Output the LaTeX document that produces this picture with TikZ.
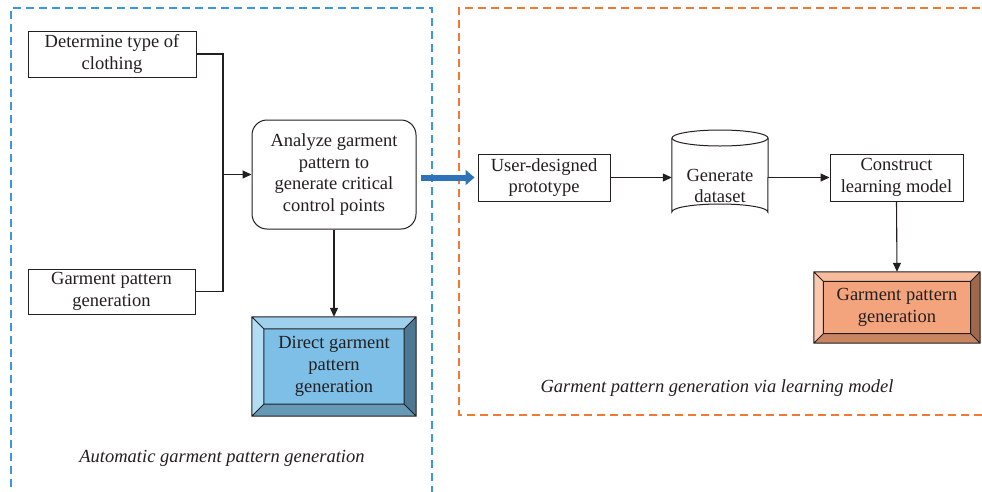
\documentclass[tikz,border=0pt]{standalone}
\usepackage{fontspec}
\setmainfont{Liberation Serif}
\usetikzlibrary{arrows.meta,calc}
\pgfdeclarelayer{background}
\pgfsetlayers{background,main}
\definecolor{ink}{HTML}{231F20}
\definecolor{dashblue}{HTML}{3A9AD9}
\definecolor{dashorange}{HTML}{F07A35}
\definecolor{arrowblue}{HTML}{2E72B8}
\definecolor{bTop}{HTML}{9FD0EC}
\definecolor{bRight}{HTML}{4D7893}
\definecolor{bBottom}{HTML}{6699B6}
\definecolor{bLeft}{HTML}{B2DDF3}
\definecolor{bCenter}{HTML}{7DBFE6}
\definecolor{oTop}{HTML}{F8BC9C}
\definecolor{oRight}{HTML}{A0674B}
\definecolor{oBottom}{HTML}{C98562}
\definecolor{oLeft}{HTML}{FAC9AF}
\definecolor{oCenter}{HTML}{F4A47C}
\newcommand\mybevel[7]{%
  \begin{pgfonlayer}{background}
  \coordinate (A) at (#1.north west);
  \coordinate (B) at (#1.north east);
  \coordinate (C) at (#1.south east);
  \coordinate (D) at (#1.south west);
  \coordinate (a) at ($(A)+(#2,#2)$);
  \coordinate (b) at ($(B)+(-#2,#2)$);
  \coordinate (c) at ($(C)+(-#2,-#2)$);
  \coordinate (d) at ($(D)+(#2,-#2)$);
  \fill[#3] (A) -- (B) -- (b) -- (a) -- cycle;
  \fill[#4] (B) -- (C) -- (c) -- (b) -- cycle;
  \fill[#5] (C) -- (D) -- (d) -- (c) -- cycle;
  \fill[#6] (D) -- (A) -- (a) -- (d) -- cycle;
  \fill[#7] (a) -- (b) -- (c) -- (d) -- cycle;
  \draw[ink, line width=1pt] (A) -- (B) -- (C) -- (D) -- cycle (a) -- (b) -- (c) -- (d) -- cycle
     (A) -- (a) (B) -- (b) (C) -- (c) (D) -- (d);
  \end{pgfonlayer}}
\begin{document}
\begin{tikzpicture}[x=1pt,y=-1pt,
  txt/.style={text=ink, align=center, inner sep=0pt, font=\fontsize{18.5}{21.8}\selectfont},
  box/.style={txt, draw=ink, line width=1pt, fill=white},
  conn/.style={draw=ink, line width=1.1pt, -{Triangle[length=9pt,width=8pt]}},
  bigarrow/.style={draw=arrowblue, line width=6pt, -{Triangle[length=9pt,width=15pt]}},
  caption/.style={text=ink, font=\fontsize{18.5}{21}\selectfont\itshape, inner sep=0pt}]
\useasboundingbox (0,0) rectangle (982,491);
% group frames
\draw[dashblue, line width=1.5pt, dash pattern=on 8pt off 5pt] (11,500) -- (11,8) -- (432,8) -- (432,500);
\draw[dashorange, line width=1.5pt, dash pattern=on 8pt off 5pt] (995,415) -- (459,415) -- (459,8) -- (995,8);
% left group
\node[box, minimum width=168pt, minimum height=46pt] (det) at (112,54) {Determine type of\\clothing};
\node[box, minimum width=167pt, minimum height=45pt] (gpl) at (111.5,291.5) {Garment pattern\\generation};
\node[box, rounded corners=15pt, minimum width=164pt, minimum height=109pt] (ana) at (334,174.5) {Analyze garment\\pattern to\\generate critical\\control points};
\node[txt, minimum width=164pt, minimum height=99pt] (dir) at (334,366.5) {Direct garment\\pattern\\generation};
\mybevel{dir}{12}{bTop}{bRight}{bBottom}{bLeft}{bCenter}
\coordinate (jn) at (223,174.5);
\draw[ink, line width=1.1pt] (det.east) -| (jn);
\draw[ink, line width=1.1pt] (gpl.east) -| (jn);
\draw[conn] (jn) -- (ana.west);
\draw[conn] (ana.south) -- (dir.north);
\node[caption] (capA) at (222,458) {Automatic garment pattern generation};
% right group
\node[box, minimum width=132pt, minimum height=47pt] (usr) at (544,177.5) {User-designed\\prototype};
\node[minimum width=96pt, minimum height=90pt, inner sep=0pt] (ds) at (720,175) {};
\draw[ink, line width=1pt, fill=white] (ds.west |- 0,138) -- (ds.west |- 0,212) arc[start angle=180, end angle=0, x radius=48pt, y radius=8pt] -- (ds.east |- 0,138);
\draw[ink, line width=1pt, fill=white] (720,138) ellipse[x radius=48pt, y radius=8pt];
\node[txt] (dst) at (720,186) {Generate\\dataset};
\node[box, minimum width=133pt, minimum height=47pt] (con) at (896.5,177.5) {Construct\\learning model};
\node[txt, minimum width=166pt, minimum height=71pt] (gpo) at (897,307.5) {Garment pattern\\generation};
\mybevel{gpo}{9.5}{oTop}{oRight}{oBottom}{oLeft}{oCenter}
\draw[conn] (usr.east) -- (usr.east -| ds.west);
\draw[conn] (ds.east |- con.west) -- (con.west);
\draw[conn] (con.south) -- (gpo.north);
\draw[bigarrow, shorten <=4pt, shorten >=3pt] (ana.east |- usr.west) -- (usr.west);
\node[caption] (capB) at (717,388) {Garment pattern generation via learning model};
\end{tikzpicture}
\end{document}
